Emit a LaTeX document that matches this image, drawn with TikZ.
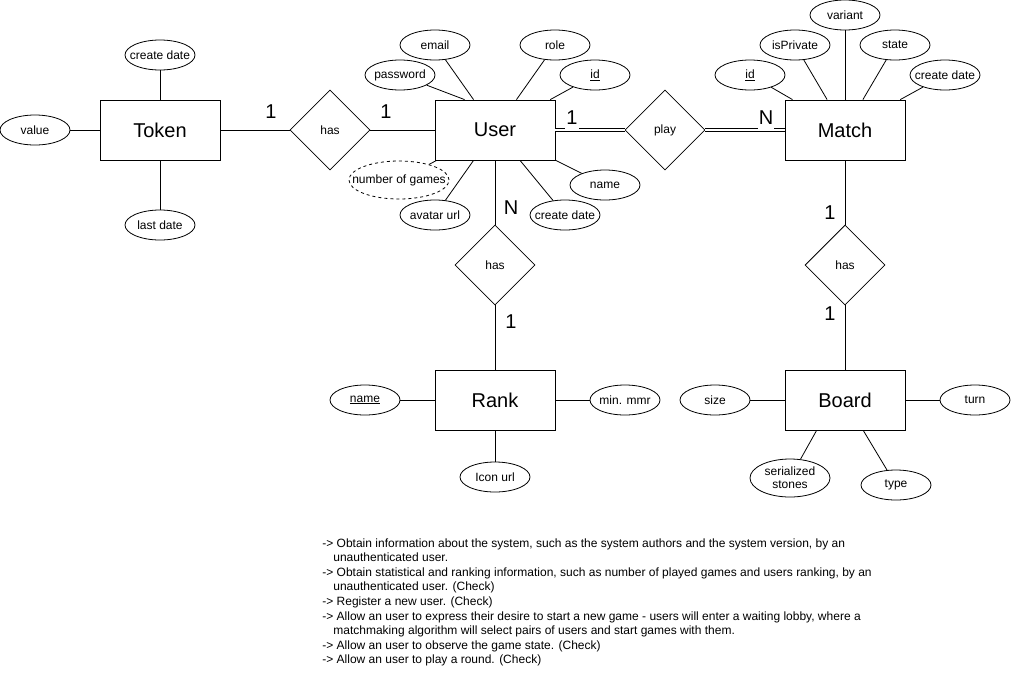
\documentclass[tikz,border=0pt]{standalone}
\usepackage{fontspec}
\setmainfont{Liberation Sans}
\usetikzlibrary{shapes.geometric}
\newcommand{\zbox}[1]{\makebox[0pt][c]{#1}}
\begin{document}
\begin{tikzpicture}[x=1pt,y=-1pt,line width=0.8pt,
 entity/.style={draw, rectangle, minimum width=120pt, minimum height=60pt, inner sep=0pt, font=\fontsize{20}{24}\selectfont},
 attr/.style={draw, ellipse, minimum width=70pt, minimum height=30pt, inner sep=0pt, font=\fontsize{12}{14}\selectfont},
 rel/.style={draw, diamond, minimum width=80pt, minimum height=80pt, inner sep=0pt, aspect=1, font=\fontsize{12}{14}\selectfont},
 card/.style={font=\fontsize{20}{24}\selectfont, inner sep=1pt},
 dcard/.style={card, fill=white, anchor=south, text depth=4pt},
 dbl/.style={double, double distance=2.5pt},
 req/.style={anchor=base west, inner sep=0pt, font=\fontsize{12}{14}\selectfont}]
\useasboundingbox (0,0) rectangle (1011,681);
% entities
\node[entity] (token) at (160,130) {Token};
\node[entity] (user) at (495,130) {User};
\node[entity] (match) at (845,130) {Match};
\node[entity] (rank) at (495,400) {Rank};
\node[entity] (board) at (845,400) {Board};
% relations
\node[rel] (has1) at (330,130) {has};
\node[rel] (play) at (665,130) {play};
\node[rel] (has2) at (495,265) {has};
\node[rel] (has3) at (845,265) {has};
% token attributes
\node[attr] (tcd) at (160,55) {\zbox{create date}};
\node[attr] (tval) at (35,130) {\zbox{value}};
\node[attr] (tld) at (160,225) {\zbox{last date}};
% user attributes
\node[attr] (uemail) at (435,45) {\zbox{email}};
\node[attr] (upass) at (400,75) {\zbox{password}};
\node[attr] (urole) at (555,45) {\zbox{role}};
\node[attr] (uid) at (595,75) {\zbox{\underline{id}}};
\node[attr, dashed, minimum width=100pt, minimum height=38pt] (unog) at (399,180) {\zbox{number of games}};
\node[attr] (uav) at (435,215) {\zbox{avatar url}};
\node[attr] (ucd) at (565,215) {\zbox{create date}};
\node[attr] (uname) at (605,185) {\zbox{name}};
% match attributes
\node[attr] (mid) at (750,75) {\zbox{\underline{id}}};
\node[attr] (mpriv) at (795,45) {\zbox{isPrivate}};
\node[attr] (mvar) at (845,15) {\zbox{variant}};
\node[attr] (mstate) at (895,45) {\zbox{state}};
\node[attr] (mcd) at (945,75) {\zbox{create date}};
% rank attributes
\node[attr] (rname) at (365,400) {\zbox{\underline{name}}};
\node[attr] (rmmr) at (625,400) {\zbox{min. mmr}};
\node[attr] (ricon) at (495,477) {\zbox{Icon url}};
% board attributes
\node[attr] (bsize) at (715,400) {\zbox{size}};
\node[attr] (bturn) at (975,400) {\zbox{turn}};
\node[attr, minimum width=80pt, minimum height=38pt, align=center, font=\fontsize{12}{13}\selectfont] (bser) at (790,478) {serialized\\stones};
\node[attr] (btype) at (896,485) {\zbox{type}};
% attribute lines
\draw (tcd) -- (token);
\draw (tval) -- (token);
\draw (tld) -- (token);
\draw (uemail) -- (user);
\draw (upass) -- ([xshift=30pt]user.north west);
\draw (urole) -- (user);
\draw (uid) -- (user);
\draw (unog) -- (user);
\draw (uav) -- (user);
\draw (ucd) -- (user);
\draw (uname) -- (user);
\draw (mid) -- (match);
\draw (mpriv) -- (match);
\draw (mvar) -- (match);
\draw (mstate) -- (match);
\draw (mcd) -- (match);
\draw (rname) -- (rank);
\draw (rmmr) -- (rank);
\draw (ricon) -- (rank);
\draw (bsize) -- (board);
\draw (bturn) -- (board);
\draw (bser) -- ([xshift=32pt]board.south west);
\draw (btype) -- (board);
% relation lines
\draw (token) -- (has1);
\draw (has1) -- (user);
\draw[dbl] (user) -- (play);
\draw[dbl] (play) -- (match);
\draw (user) -- (has2);
\draw (has2) -- (rank);
\draw (match) -- (has3);
\draw (has3) -- (board);
% cardinalities
\node[card] (c1) at (271,112) {1};
\node[card] (c2) at (386,112) {1};
\node[dcard] (c3) at (572,129.5) {1};
\node[dcard] (c4) at (766,129.5) {N};
\node[card] (c5) at (511,208) {N};
\node[card] (c6) at (511,322) {1};
\node[card] (c7) at (830,213) {1};
\node[card] (c8) at (830,314) {1};
% requirements text
\node[req] (t1) at (322,547) {-> Obtain information about the system, such as the system authors and the system version, by an};
\node[req] (t2) at (333,561.6) {unauthenticated user.};
\node[req] (t3) at (322,576.2) {-> Obtain statistical and ranking information, such as number of played games and users ranking, by an};
\node[req] (t4) at (333,590.8) {unauthenticated user. (Check)};
\node[req] (t5) at (322,605.4) {-> Register a new user. (Check)};
\node[req] (t6) at (322,620) {-> Allow an user to express their desire to start a new game - users will enter a waiting lobby, where a};
\node[req] (t7) at (333,634.6) {matchmaking algorithm will select pairs of users and start games with them.};
\node[req] (t8) at (322,649.2) {-> Allow an user to observe the game state. (Check)};
\node[req] (t9) at (322,663.8) {-> Allow an user to play a round. (Check)};
\end{tikzpicture}
\end{document}
